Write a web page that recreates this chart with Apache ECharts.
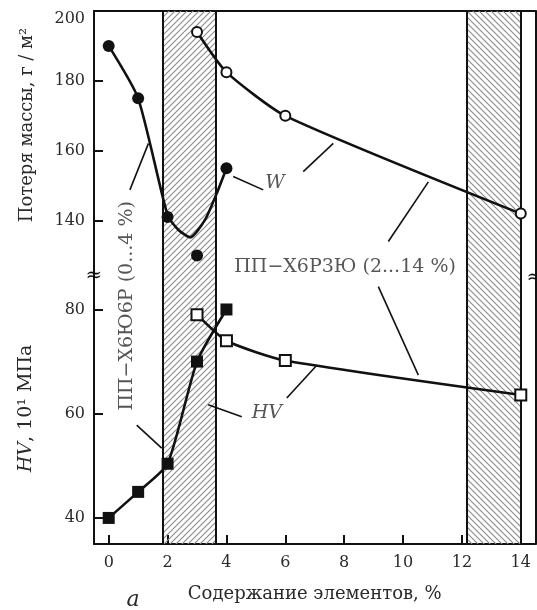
<!DOCTYPE html>
<html><head><meta charset="utf-8">
<script src="https://cdn.jsdelivr.net/npm/echarts@6/dist/echarts.min.js"></script>
<style>html,body{margin:0;padding:0;background:#fff}#c{width:537px;height:610px}</style>
</head><body><div id="c"></div>
<script>
// ---- data ----
const xTicks = [0, 2, 4, 6, 8, 10, 12, 14];
const topTicks = [140, 160, 180, 200];
const botTicks = [40, 60, 80];
// mass loss W, ПП-Х6Ю6Р (filled circles) and its drawn curve
const wX6U6R = [[0, 190], [1, 175], [2, 141], [3, 130], [4, 155]];
const wX6U6Rcurve = [[0, 190], [1, 175], [2, 141.5], [2.37, 137.3], [2.77, 135.2], [3.27, 140.2], [3.67, 147.8], [4, 155]];
// mass loss W, ПП-Х6Р3Ю (open circles)
const wX6R3U = [[3, 194], [4, 182.5], [6, 170], [14, 142]];
// hardness HV
const hvX6U6R = [[0, 40], [1, 45], [2, 50.4], [3, 70], [4, 80]];
const hvX6R3U = [[3, 79], [4, 74], [6, 70.2], [14, 63.6]];
// hatched ranges
const band1 = [1.85, 3.62];
const band2 = [12.15, 14];
// leader lines (data coordinates)
const leadersTop = [[[4.23, 152.6], [5.25, 148.8]], [[6.61, 154.0], [7.63, 162.1]], [[9.50, 134.0], [10.86, 151.1]], [[0.72, 148.8], [1.35, 162.1]]];
const leadersBot = [[[9.16, 84.4], [10.52, 67.4]], [[0.95, 57.8], [1.80, 53.4]], [[3.38, 61.7], [4.52, 59.4]], [[6.05, 63.0], [7.07, 69.3]]];
const labelsTop = [{ text: '{i|W}', at: [5.65, 150.8], rot: 0 }, { text: 'ПП−Х6Р3Ю (2...14 %)', at: [8.03, 126.8], rot: 0 }];
const labelsBot = [{ text: '{i|HV}', at: [5.37, 60.1], rot: 0 }, { text: 'ПП−Х6Ю6Р (0...4 %)', at: [0.62, 80.7], rot: 90 }];

const FONT = '"DejaVu Serif", "Liberation Serif", serif';
const INK = '#111';
const TXT = '#2a2a2a';

function hatch(dir) {
  const s = 6, c = document.createElement('canvas');
  c.width = s; c.height = s;
  const g = c.getContext('2d');
  g.strokeStyle = '#8a8a8a'; g.lineWidth = 1.1;
  g.beginPath();
  if (dir > 0) {
    g.moveTo(-1, s + 1); g.lineTo(s + 1, -1);
    g.moveTo(-1, 1); g.lineTo(1, -1);
    g.moveTo(s - 1, s + 1); g.lineTo(s + 1, s - 1);
  } else {
    g.moveTo(-1, -1); g.lineTo(s + 1, s + 1);
    g.moveTo(s - 1, -1); g.lineTo(s + 1, 1);
    g.moveTo(-1, s - 1); g.lineTo(1, s + 1);
  }
  g.stroke();
  return c;
}
const patUp = { image: hatch(1), repeat: 'repeat' };
const patDown = { image: hatch(-1), repeat: 'repeat' };

const axisLine = { show: true, onZero: false, lineStyle: { color: INK, width: 2 } };
const tickStyle = { color: INK, width: 2 };
const labelFont = { fontFamily: FONT, fontSize: 16, color: TXT };

function host(gi) {
  return {
    type: 'line', xAxisIndex: gi, yAxisIndex: gi * 2, data: [], silent: true,
    markArea: {
      silent: true,
      data: [
        [{ xAxis: band1[0], itemStyle: { color: patUp } }, { xAxis: band1[1] }],
        [{ xAxis: band2[0], itemStyle: { color: patDown } }, { xAxis: band2[1] }]
      ]
    },
    markLine: {
      silent: true, symbol: 'none', label: { show: false },
      lineStyle: { color: INK, width: 2, type: 'solid' },
      data: [{ xAxis: band1[0] }, { xAxis: band1[1] }, { xAxis: band2[0] }, { xAxis: band2[1] }]
    }
  };
}
function leaders(arr, gi) {
  return arr.map(seg => ({
    type: 'line', xAxisIndex: gi, yAxisIndex: gi * 2, data: seg, symbol: 'none', silent: true,
    lineStyle: { color: INK, width: 1.6 }, z: 3
  }));
}
function labels(arr, gi) {
  return arr.map(l => ({
    type: 'scatter', xAxisIndex: gi, yAxisIndex: gi * 2, data: [l.at], symbolSize: 0, silent: true, z: 6,
    label: {
      show: true, position: 'inside', rotate: l.rot, formatter: l.text,
      fontFamily: FONT, fontSize: 19, color: TXT,
      rich: { i: { fontFamily: FONT, fontSize: 19, fontStyle: 'italic', color: TXT } }
    }
  }));
}

const chart = echarts.init(document.getElementById('c'), null, { renderer: 'canvas' });
chart.setOption({
  animation: false,
  backgroundColor: '#fff',
  grid: [
    { left: 94, top: 11, width: 441.5, height: 262 },
    { left: 94, top: 273, width: 441.5, height: 271 }
  ],
  xAxis: [
    { gridIndex: 0, type: 'value', min: -0.5, max: 14.5, position: 'top', axisLine: axisLine,
      axisTick: { show: false }, axisLabel: { show: false }, splitLine: { show: false } },
    { gridIndex: 1, type: 'value', min: -0.5, max: 14.5, position: 'bottom', axisLine: axisLine,
      axisTick: { show: true, inside: true, length: 9, lineStyle: tickStyle, customValues: xTicks },
      axisLabel: Object.assign({ customValues: xTicks, margin: 11 }, labelFont),
      splitLine: { show: false },
      name: 'Содержание элементов, %', nameLocation: 'middle', nameGap: 41,
      nameTextStyle: { fontFamily: FONT, fontSize: 18, color: TXT } }
  ],
  yAxis: [
    { gridIndex: 0, type: 'value', min: 125, max: 200, axisLine: axisLine,
      axisTick: { show: true, inside: true, length: 9, lineStyle: tickStyle, customValues: topTicks },
      axisLabel: Object.assign({ customValues: topTicks, margin: 9,
        formatter: v => v === 200 ? '{d|200}' : String(v),
        rich: { d: { fontFamily: FONT, fontSize: 16, color: TXT, padding: [16, 0, 0, 0] } } }, labelFont),
      splitLine: { show: false },
      name: 'Потеря массы, г / м²', nameLocation: 'middle', nameRotate: 90, nameGap: 58,
      nameTextStyle: { fontFamily: FONT, fontSize: 18, color: TXT, padding: [0, 0, 0, 34] } },
    { gridIndex: 0, type: 'value', min: 125, max: 200, position: 'right', axisLine: axisLine,
      axisTick: { show: false }, axisLabel: { show: false }, splitLine: { show: false } },
    { gridIndex: 1, type: 'value', min: 35, max: 87, axisLine: axisLine,
      axisTick: { show: true, inside: true, length: 9, lineStyle: tickStyle, customValues: botTicks },
      axisLabel: Object.assign({ customValues: botTicks, margin: 9 }, labelFont),
      splitLine: { show: false },
      name: '{i|HV}, 10¹ МПа', nameLocation: 'middle', nameRotate: 90, nameGap: 58,
      nameTextStyle: { fontFamily: FONT, fontSize: 19, color: TXT,
        rich: { i: { fontFamily: FONT, fontSize: 19, fontStyle: 'italic', color: TXT } } } },
    { gridIndex: 1, type: 'value', min: 35, max: 87, position: 'right', axisLine: axisLine,
      axisTick: { show: false }, axisLabel: { show: false }, splitLine: { show: false } }
  ],
  series: [
    host(0), host(1),
    { type: 'line', xAxisIndex: 0, yAxisIndex: 0, data: wX6U6Rcurve, smooth: 0.2, symbol: 'none',
      lineStyle: { color: INK, width: 2.6 }, z: 4, silent: true },
    { type: 'scatter', xAxisIndex: 0, yAxisIndex: 0, data: wX6U6R, symbol: 'circle', symbolSize: 12,
      itemStyle: { color: INK, opacity: 1 }, z: 5, silent: true },
    { type: 'line', xAxisIndex: 0, yAxisIndex: 0, data: wX6R3U, smooth: 0.2,
      symbol: 'circle', symbolSize: 10, showAllSymbol: true,
      itemStyle: { color: '#fff', borderColor: INK, borderWidth: 2, opacity: 1 },
      lineStyle: { color: INK, width: 2.6 }, z: 5, silent: true },
    { type: 'line', xAxisIndex: 1, yAxisIndex: 2, data: hvX6U6R, smooth: 0.2,
      symbol: 'rect', symbolSize: 12, showAllSymbol: true,
      itemStyle: { color: INK, borderColor: INK, borderWidth: 0, opacity: 1 },
      lineStyle: { color: INK, width: 2.6 }, z: 5, silent: true },
    { type: 'line', xAxisIndex: 1, yAxisIndex: 2, data: hvX6R3U, smooth: 0.2,
      symbol: 'rect', symbolSize: 11, showAllSymbol: true,
      itemStyle: { color: '#fff', borderColor: INK, borderWidth: 2, opacity: 1 },
      lineStyle: { color: INK, width: 2.6 }, z: 5, silent: true },
    ...leaders(leadersTop, 0), ...leaders(leadersBot, 1),
    ...labels(labelsTop, 0), ...labels(labelsBot, 1)
  ],
  graphic: [
    { type: 'text', x: 94, y: 276, z: 100, style: { text: '≈', font: '20px ' + FONT, fill: INK, align: 'center', verticalAlign: 'middle' } },
    { type: 'text', x: 535, y: 278, z: 100, style: { text: '≈', font: '20px ' + FONT, fill: INK, align: 'center', verticalAlign: 'middle' } },
    { type: 'text', x: 133, y: 600, z: 100, style: { text: 'а', font: 'italic 22px ' + FONT, fill: TXT, align: 'center', verticalAlign: 'middle' } }
  ]
});
</script></body></html>
